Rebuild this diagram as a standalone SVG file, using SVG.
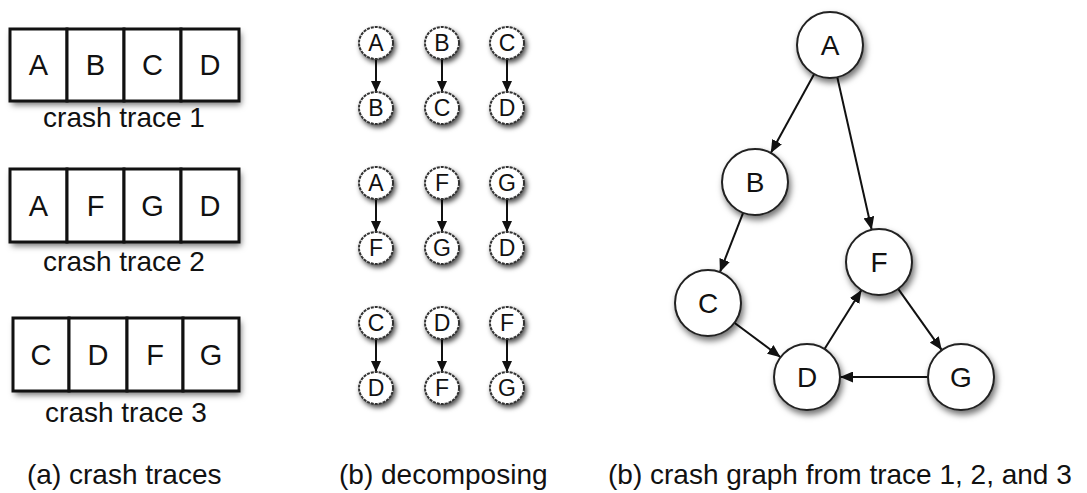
<svg xmlns="http://www.w3.org/2000/svg" width="1087" height="493" viewBox="0 0 1087 493">
<style>
text{font-family:"Liberation Sans",Arial,sans-serif;fill:#111;}
.cell{fill:#fff;stroke:#111;stroke-width:3;}
.lbl{font-size:29px;text-anchor:middle;}
.cap{font-size:28px;}
.tl{font-size:28px;text-anchor:middle;}
.sc{fill:#fff;stroke:#333;stroke-width:2;stroke-dasharray:3 1;}
.sl{font-size:23px;text-anchor:middle;}
.gc{fill:#fff;stroke:#222;stroke-width:2;}
.gl{font-size:28px;text-anchor:middle;}
.e{stroke:#111;stroke-width:2;fill:none;marker-end:url(#ah);}
.es{stroke:#111;stroke-width:2;fill:none;marker-end:url(#ahs);}
</style>
<defs>
<filter id="sh" x="-30%" y="-30%" width="170%" height="170%">
<feDropShadow dx="2" dy="4" stdDeviation="3" flood-color="#000" flood-opacity="0.55"/>
</filter>
<filter id="shs" x="-50%" y="-50%" width="200%" height="200%">
<feDropShadow dx="2" dy="3" stdDeviation="2.5" flood-color="#000" flood-opacity="0.7"/>
</filter>
<marker id="ah" markerUnits="userSpaceOnUse" markerWidth="13" markerHeight="11" refX="13" refY="5.5" orient="auto"><path d="M0,0 L13,5.5 L0,11 z" fill="#111"/></marker>
<marker id="ahs" markerUnits="userSpaceOnUse" markerWidth="11" markerHeight="10" refX="11" refY="5" orient="auto"><path d="M0,0 L11,5 L0,10 z" fill="#111"/></marker>
</defs>
<rect width="1087" height="493" fill="#fff"/>

<!-- crash traces -->
<g id="trace1">
<rect x="10" y="29" width="229" height="72" fill="#fff" filter="url(#sh)"/>
<rect class="cell" x="10" y="29" width="57" height="72"/>
<rect class="cell" x="67" y="29" width="57" height="72"/>
<rect class="cell" x="124" y="29" width="57" height="72"/>
<rect class="cell" x="181" y="29" width="58" height="72"/>
<text class="lbl" x="38.5" y="75">A</text>
<text class="lbl" x="95.5" y="75">B</text>
<text class="lbl" x="152.5" y="75">C</text>
<text class="lbl" x="210" y="75">D</text>
<text class="tl" x="124" y="127">crash trace 1</text>
</g>
<g id="trace2">
<rect x="10" y="169" width="229" height="73" fill="#fff" filter="url(#sh)"/>
<rect class="cell" x="10" y="169" width="57" height="73"/>
<rect class="cell" x="67" y="169" width="57" height="73"/>
<rect class="cell" x="124" y="169" width="57" height="73"/>
<rect class="cell" x="181" y="169" width="58" height="73"/>
<text class="lbl" x="38.5" y="216">A</text>
<text class="lbl" x="95.5" y="216">F</text>
<text class="lbl" x="152.5" y="216">G</text>
<text class="lbl" x="210" y="216">D</text>
<text class="tl" x="124" y="271">crash trace 2</text>
</g>
<g id="trace3">
<rect x="13" y="318" width="226" height="73" fill="#fff" filter="url(#sh)"/>
<rect class="cell" x="13" y="318" width="56" height="73"/>
<rect class="cell" x="69" y="318" width="58" height="73"/>
<rect class="cell" x="127" y="318" width="56" height="73"/>
<rect class="cell" x="183" y="318" width="56" height="73"/>
<text class="lbl" x="41" y="365">C</text>
<text class="lbl" x="98" y="365">D</text>
<text class="lbl" x="155" y="365">F</text>
<text class="lbl" x="211" y="365">G</text>
<text class="tl" x="126" y="422">crash trace 3</text>
</g>

<!-- decomposing -->
<g id="decompose-connectors">
<line class="es" x1="376" y1="59" x2="376" y2="92"/>
<line class="es" x1="442" y1="59" x2="442" y2="92"/>
<line class="es" x1="507" y1="59" x2="507" y2="92"/>
<line class="es" x1="376" y1="199" x2="376" y2="232"/>
<line class="es" x1="442" y1="199" x2="442" y2="232"/>
<line class="es" x1="507" y1="199" x2="507" y2="232"/>
<line class="es" x1="376" y1="339" x2="376" y2="372"/>
<line class="es" x1="442" y1="339" x2="442" y2="372"/>
<line class="es" x1="507" y1="339" x2="507" y2="372"/>
</g>
<g id="d1a"><ellipse class="sc" cx="376" cy="43" rx="17" ry="16" filter="url(#shs)"/><text class="sl" x="376" y="51">A</text></g>
<g id="d1b"><ellipse class="sc" cx="376" cy="108" rx="17" ry="16" filter="url(#shs)"/><text class="sl" x="376" y="116">B</text></g>
<g id="d2a"><ellipse class="sc" cx="442" cy="43" rx="17" ry="16" filter="url(#shs)"/><text class="sl" x="442" y="51">B</text></g>
<g id="d2b"><ellipse class="sc" cx="442" cy="108" rx="17" ry="16" filter="url(#shs)"/><text class="sl" x="442" y="116">C</text></g>
<g id="d3a"><ellipse class="sc" cx="507" cy="43" rx="17" ry="16" filter="url(#shs)"/><text class="sl" x="507" y="51">C</text></g>
<g id="d3b"><ellipse class="sc" cx="507" cy="108" rx="17" ry="16" filter="url(#shs)"/><text class="sl" x="507" y="116">D</text></g>

<g id="d4a"><ellipse class="sc" cx="376" cy="183" rx="17" ry="16" filter="url(#shs)"/><text class="sl" x="376" y="191">A</text></g>
<g id="d4b"><ellipse class="sc" cx="376" cy="248" rx="17" ry="16" filter="url(#shs)"/><text class="sl" x="376" y="256">F</text></g>
<g id="d5a"><ellipse class="sc" cx="442" cy="183" rx="17" ry="16" filter="url(#shs)"/><text class="sl" x="442" y="191">F</text></g>
<g id="d5b"><ellipse class="sc" cx="442" cy="248" rx="17" ry="16" filter="url(#shs)"/><text class="sl" x="442" y="256">G</text></g>
<g id="d6a"><ellipse class="sc" cx="507" cy="183" rx="17" ry="16" filter="url(#shs)"/><text class="sl" x="507" y="191">G</text></g>
<g id="d6b"><ellipse class="sc" cx="507" cy="248" rx="17" ry="16" filter="url(#shs)"/><text class="sl" x="507" y="256">D</text></g>

<g id="d7a"><ellipse class="sc" cx="376" cy="323" rx="17" ry="16" filter="url(#shs)"/><text class="sl" x="376" y="331">C</text></g>
<g id="d7b"><ellipse class="sc" cx="376" cy="388" rx="17" ry="16" filter="url(#shs)"/><text class="sl" x="376" y="396">D</text></g>
<g id="d8a"><ellipse class="sc" cx="442" cy="323" rx="17" ry="16" filter="url(#shs)"/><text class="sl" x="442" y="331">D</text></g>
<g id="d8b"><ellipse class="sc" cx="442" cy="388" rx="17" ry="16" filter="url(#shs)"/><text class="sl" x="442" y="396">F</text></g>
<g id="d9a"><ellipse class="sc" cx="507" cy="323" rx="17" ry="16" filter="url(#shs)"/><text class="sl" x="507" y="331">F</text></g>
<g id="d9b"><ellipse class="sc" cx="507" cy="388" rx="17" ry="16" filter="url(#shs)"/><text class="sl" x="507" y="396">G</text></g>

<!-- crash graph -->
<g id="connectors">
<line class="e" x1="814.2" y1="73.9" x2="770.8" y2="153.1"/>
<line class="e" x1="837.3" y1="77.2" x2="871.7" y2="229.8"/>
<line class="e" x1="743.1" y1="212.8" x2="719.9" y2="272.2"/>
<line class="e" x1="734.4" y1="322.8" x2="780.6" y2="357.2"/>
<line class="e" x1="824.5" y1="349.0" x2="861.5" y2="290.0"/>
<line class="e" x1="898.2" y1="288.9" x2="941.8" y2="350.1"/>
<line class="e" x1="928" y1="377" x2="840" y2="377"/>
</g>
<g id="nA"><circle class="gc" cx="830" cy="45" r="33" filter="url(#sh)"/><text class="gl" x="830" y="55">A</text></g>
<g id="nB"><circle class="gc" cx="755" cy="182" r="33" filter="url(#sh)"/><text class="gl" x="755" y="192">B</text></g>
<g id="nF"><circle class="gc" cx="879" cy="262" r="33" filter="url(#sh)"/><text class="gl" x="879" y="272">F</text></g>
<g id="nC"><circle class="gc" cx="708" cy="303" r="33" filter="url(#sh)"/><text class="gl" x="708" y="313">C</text></g>
<g id="nD"><circle class="gc" cx="807" cy="377" r="33" filter="url(#sh)"/><text class="gl" x="807" y="387">D</text></g>
<g id="nG"><circle class="gc" cx="961" cy="377" r="33" filter="url(#sh)"/><text class="gl" x="961" y="387">G</text></g>

<!-- captions -->
<text class="cap" x="27" y="484">(a) crash traces</text>
<text class="cap" x="339" y="484">(b) decomposing</text>
<text class="cap" x="608" y="484">(b) crash graph from trace 1, 2, and 3</text>
</svg>
